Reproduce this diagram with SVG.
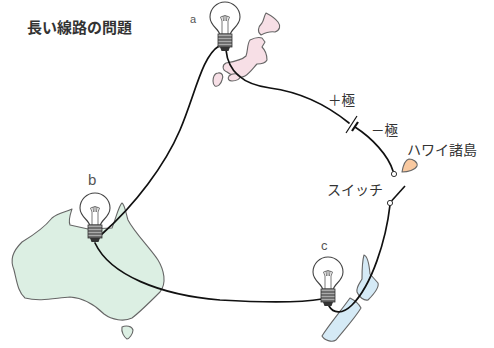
<svg xmlns="http://www.w3.org/2000/svg" width="494" height="348" viewBox="0 0 494 348">
  <style>
    .lbl { font-family: "Noto Sans CJK JP", "Noto Sans", sans-serif; fill: #333; }
    .tag { font-family: "Liberation Sans", "DejaVu Sans", sans-serif; fill: #555; }
    .land { stroke: #666; stroke-width: 1.1; stroke-linejoin: round; }
    .wire { fill: none; stroke: #111; stroke-width: 1.7; stroke-linecap: round; }
    .glass { fill: #fff; stroke: #444; stroke-width: 1.1; }
    .fil { fill: none; stroke: #555; stroke-width: 0.8; }
    .thread { stroke: #333; stroke-width: 1; }
  </style>
  <defs>
    <!-- light bulb, glass centre at (0,0) -->
    <g id="bulb">
      <path class="glass" d="M -5.5 16 C -6 11 -15 8 -15 -1 A 15 15 0 1 1 15 -1 C 15 8 6 11 5.5 16 Z"/>
      <path class="fil" d="M -3 16 L -3 3 M 3 16 L 3 3 M -3 3 L -4.5 -1 M -1.5 3 L -2 -2 M 0 3 L 0 -2.5 M 1.5 3 L 2 -2 M 3 3 L 4.5 -1 M -4.5 -1 Q 0 -4 4.5 -1"/>
      <rect x="-7" y="16" width="14" height="13" fill="#aaa" stroke="#333" stroke-width="0.8"/>
      <line class="thread" x1="-7" y1="19" x2="7" y2="19"/>
      <line class="thread" x1="-7" y1="22" x2="7" y2="22"/>
      <line class="thread" x1="-7" y1="25" x2="7" y2="25"/>
      <line class="thread" x1="-7" y1="28" x2="7" y2="28"/>
      <path d="M -5 29 L 5 29 L 3.5 33 L -3.5 33 Z" fill="#333"/>
    </g>
  </defs>

  <rect width="494" height="348" fill="#fff"/>

  <!-- maps -->
  <g id="australia">
    <path class="land" fill="#dcefe3" d="M 72 209 C 70 215 68 220 70 225 L 88 229 L 112 228 C 116 218 119 205 122 203 C 125 205 126 214 128 220 C 134 232 150 248 158 260 C 164 270 167 283 160 292 C 150 302 140 312 132 318 C 124 322 112 320 104 314 C 96 306 85 298 70 297 C 55 298 40 302 25 298 C 18 292 17 282 14 270 C 10 260 12 252 22 242 C 32 236 44 228 52 218 C 58 213 66 212 72 209 Z"/>
    <path class="land" fill="#dcefe3" d="M 122 327 C 126 325 132 326 133 330 C 133 334 129 339 127 339 C 124 337 121 332 122 327 Z"/>
  </g>
  <g id="japan">
    <path class="land" fill="#f7dfe6" d="M 266 13 C 270 15 274 17 278 22 C 281 26 280 30 275 32 C 270 31 265 33 261 35 C 257 32 258 27 262 23 C 264 20 264 16 266 13 Z"/>
    <path class="land" fill="#f7dfe6" d="M 250 40 C 254 38 259 37 262 38 L 265 42 L 262 47 C 265 50 267 55 267 60 C 265 64 260 64 257 64 C 254 67 250 73 245 76 C 240 79 232 76 227 72 C 222 70 222 65 226 63 C 232 62 242 60 246 56 C 248 51 247 44 250 40 Z"/>
    <path class="land" fill="#f7dfe6" d="M 218 73 C 222 72 224 76 222 80 C 221 84 218 87 215 86 C 212 84 213 78 214 76 C 215 74 216 73 218 73 Z"/>
    <path class="land" fill="#f7dfe6" d="M 229 76 C 232 73 238 73 240 76 C 241 79 236 81 232 81 C 229 81 227 79 229 76 Z"/>
  </g>
  <g id="hawaii">
    <path class="land" fill="#f9c9a0" d="M 402 172 C 403 166 405 160 409 159 C 413 159 418 162 417 166 C 415 170 408 172 402 172 Z"/>
  </g>
  <g id="new-zealand">
    <path class="land" fill="#d5eaf6" d="M 364 255 C 367 256 369 262 370 274 L 378 283 C 379 286 376 292 368 300 C 364 301 359 297 357 292 C 356 287 360 283 362 279 C 362 270 362 262 364 255 Z"/>
    <path class="land" fill="#d5eaf6" d="M 350 298 C 354 300 359 304 361 308 C 355 318 344 330 336 340 C 332 343 324 340 322 336 C 328 326 340 312 350 298 Z"/>
  </g>

  <!-- connectors -->
  <g id="wires">
    <path class="wire" d="M 219 46 C 202 56 195 95 180 130 C 165 165 135 205 102 234"/>
    <path class="wire" d="M 226 50 C 228 70 240 84 270 88 C 300 92 328 106 349 123"/>
    <path class="wire" d="M 355 127 C 372 138 388 155 393 171"/>
    <path class="wire" d="M 390 205 C 386 240 372 285 352 305 C 342 315 333 313 329 306"/>
    <path class="wire" d="M 95 243 C 110 275 160 295 220 300 C 270 303 305 302 322 299"/>
  </g>

  <!-- battery -->
  <g id="battery">
    <line x1="346" y1="133" x2="357" y2="116" stroke="#111" stroke-width="1.2"/>
    <line x1="352" y1="131" x2="358" y2="122" stroke="#111" stroke-width="2.2"/>
  </g>

  <!-- switch -->
  <g id="switch">
    <line x1="391.5" y1="201" x2="405" y2="186" stroke="#111" stroke-width="1.6"/>
    <circle cx="394" cy="174" r="2.6" fill="#fff" stroke="#333" stroke-width="1"/>
    <circle cx="390" cy="203" r="2.6" fill="#fff" stroke="#333" stroke-width="1"/>
  </g>

  <!-- bulbs -->
  <g id="bulb-a"><use href="#bulb" x="225" y="18"/></g>
  <g id="bulb-b"><use href="#bulb" x="95" y="209"/></g>
  <g id="bulb-c"><use href="#bulb" x="328" y="273"/></g>

  <!-- labels -->
  <g id="labels">
    <text class="lbl" x="27" y="33" font-size="15" font-weight="bold" fill="#3a3a3a">長い線路の問題</text>
    <text class="tag" x="190" y="23" font-size="11">a</text>
    <text class="tag" x="88" y="185" font-size="15">b</text>
    <text class="tag" x="321" y="250" font-size="13">c</text>
    <text class="lbl" x="328" y="105" font-size="13.5">＋極</text>
    <text class="lbl" x="371" y="135" font-size="13.5">－極</text>
    <text class="lbl" x="407" y="155" font-size="14">ハワイ諸島</text>
    <text class="lbl" x="327" y="195" font-size="14">スイッチ</text>
  </g>
</svg>
